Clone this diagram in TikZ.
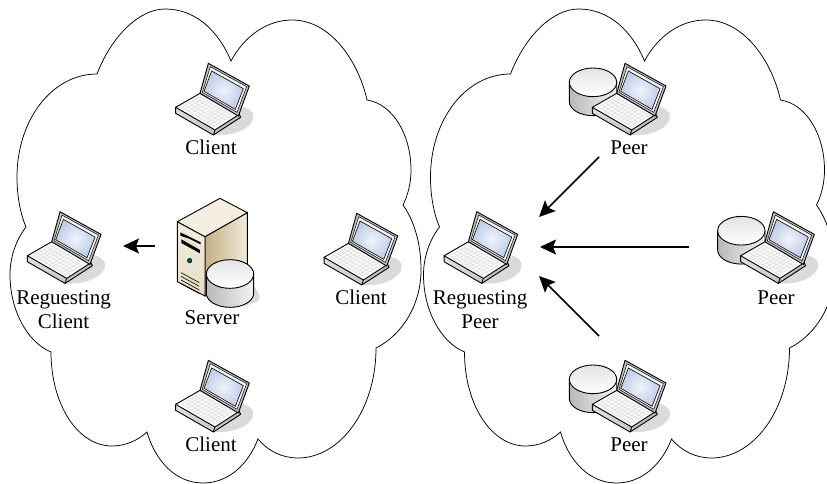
\documentclass[tikz,border=0pt]{standalone}
\usepackage{fontspec}
\setmainfont{Liberation Serif}
\usetikzlibrary{arrows.meta,calc}
\definecolor{screenC}{HTML}{F0F3FA}
\definecolor{screenO}{HTML}{BFCDE8}
\definecolor{shadowC}{HTML}{DADADA}
\definecolor{srvA}{HTML}{F3EEE0}
\definecolor{srvB}{HTML}{C4B083}
\definecolor{srvC}{HTML}{E6DCC2}
\definecolor{srvD}{HTML}{F1EBDC}
\tikzset{
  labeltext/.style={font=\fontsize{21}{24.5}\selectfont,anchor=base,align=center,inner sep=0pt,text=black},
  cloudline/.style={draw=black,line width=0.75pt},
  flowarrow/.style={draw=black,line width=1.5pt,-{Stealth[length=16pt,width=15pt,inset=3pt]}},
  edge/.style={draw=black,line width=0.9pt,line join=round},
  laptop/.pic={
    \begin{scope}[scale=1/3]
      \fill[shadowC] (715,318) .. controls (748,322) and (762,338) .. (760,352) .. controls (757,385) and (700,410) .. (640,405) -- cycle;
      \shade[left color=gray!25,right color=gray!55,draw=black,line width=0.9pt,line join=round] (527,322) -- (527,340) -- (640,405) -- (722,352) -- (716,340) -- cycle;
      \path[edge,fill=gray!5] (600,280) -- (527,322) -- (645,390) -- (716,344) -- cycle;
      \draw[edge] (645,390) -- (640,405);
      \coordinate (kA) at (598,292);
      \coordinate (kB) at (545,322);
      \coordinate (kC) at (642,378);
      \coordinate (kD) at (697,346);
      \foreach \t in {0,0.2,0.4,0.6,0.8,1}
        \draw[gray!35,line width=0.3pt] ($(kA)!\t!(kB)$) -- ($(kD)!\t!(kC)$);
      \foreach \t in {0,0.1,0.2,0.3,0.4,0.5,0.6,0.7,0.8,0.9,1}
        \draw[gray!35,line width=0.3pt] ($(kA)!\t!(kD)$) -- ($(kB)!\t!(kC)$);
      \path[edge,fill=gray!50] (625,190) -- (748,258) -- (715,348) -- (600,280) -- cycle;
      \draw[black,line width=0.5pt,fill=gray!8] (631,200) -- (740,260) -- (711,337) -- (607,277) -- cycle;
      \shade[inner color=screenC,outer color=screenO,draw=black,line width=0.6pt]
        (635,213) -- (730,266) -- (706,328) -- (612,274) -- cycle;
    \end{scope}
  },
  drum/.pic={
    \begin{scope}[scale=1/3]
      \shade[left color=gray!55,right color=gray!10,draw=black,line width=0.9pt]
        (-71,0) -- (-71,58) arc[start angle=180,end angle=360,x radius=71,y radius=-42] -- (71,0) -- cycle;
      \shade[top color=gray!22,bottom color=white,draw=black,line width=0.9pt]
        (0,0) ellipse[x radius=71,y radius=43];
    \end{scope}
  },
  peerset/.pic={
    \pic at (176.33,82.33) {drum};
    \pic at (0,0) {laptop};
  },
  cloudshape/.pic={
    \path[cloudline] (97,74)
      .. controls (112,35) and (140,9) .. (165,9)
      .. controls (195,9) and (218,30) .. (231,61)
      .. controls (245,35) and (268,20) .. (292,20)
      .. controls (330,20) and (358,60) .. (367,100)
      .. controls (393,104) and (411,135) .. (411,170)
      .. controls (411,183) and (408,195) .. (403,205)
      .. controls (415,222) and (421,245) .. (421,270)
      .. controls (421,305) and (402,335) .. (376,348)
      .. controls (376,410) and (340,458) .. (298,458)
      .. controls (282,458) and (268,451) .. (258,439)
      .. controls (248,465) and (228,483) .. (203,483)
      .. controls (175,483) and (155,460) .. (147,432)
      .. controls (137,441) and (125,446) .. (112,446)
      .. controls (78,446) and (51,405) .. (51,352)
      .. controls (27,342) and (10,310) .. (10,275)
      .. controls (10,257) and (16,240) .. (26,227)
      .. controls (20,213) and (17,195) .. (17,177)
      .. controls (17,120) and (52,74) .. (97,74) -- cycle;
  }
}
\begin{document}
\begin{tikzpicture}[x=1pt,y=-1pt]
  \useasboundingbox (0,0) rectangle (827,484);
  \clip (0,0) rectangle (827,484);
  \pic at (0,0) {cloudshape};
  \pic at (413.5,0) {cloudshape};

  % client devices
  \pic at (0,0) {laptop};
  \pic at (-148.3,148.4) {laptop};
  \pic at (148.4,150) {laptop};
  \pic at (0,297) {laptop};

  % server
  \begin{scope}[shift={(0,170)},scale=1/3]
    \fill[shadowC] (740,330) .. controls (770,350) and (785,380) .. (775,392) .. controls (750,410) and (700,412) .. (660,405) -- cycle;
    \shade[left color=srvB,right color=srvD,draw=black,line width=0.9pt] (615,200) -- (742,128) -- (742,310) -- (615,378) -- cycle;
    \shade[top color=srvA,bottom color=srvC,draw=black,line width=0.9pt] (532,155) -- (615,200) -- (615,378) -- (532,335) -- cycle;
    \fill[srvA,draw=black,line width=0.9pt,line join=round] (532,155) -- (660,85) -- (742,128) -- (615,200) -- cycle;
    \fill[black] (541,187) -- (602,217) -- (602,223) -- (570,207) -- (541,197) -- cycle;
    \fill[black] (544,208) -- (600,240) -- (600,250) -- (544,219) -- cycle;
    \fill[srvC] (552,205) -- (590,226) -- (590,232) -- (552,211) -- cycle;
    \fill[teal!70!black,draw=black,line width=0.4pt] (569,272) circle[radius=7];
    \foreach \d in {0,11,22,33}
      \draw[black,line width=0.6pt] (543,{308+\d}) -- (598,{338+\d});
  \end{scope}
  \pic at (230,274) {drum};

  % peer devices
  \pic at (416.7,0) {peerset};
  \pic at (268.4,148.4) {laptop};
  \pic at (565,148.4) {peerset};
  \pic at (416.7,297) {peerset};

  % labels
  \node[labeltext] (clientTop) at (211,154.5) {Client};
  \node[labeltext] (reqClient) at (63.5,328.5) {Reguesting\\Client};
  \node[labeltext] (server) at (212,324) {Server};
  \node[labeltext] (clientRight) at (361,304) {Client};
  \node[labeltext] (clientBottom) at (211,451) {Client};
  \node[labeltext] (peerTop) at (629,154.5) {Peer};
  \node[labeltext] (reqPeer) at (480,328.5) {Reguesting\\Peer};
  \node[labeltext] (peerRight) at (776,304) {Peer};
  \node[labeltext] (peerBottom) at (629,451) {Peer};

  % arrows
  \coordinate (a1s) at (155,246); \coordinate (a1e) at (123,246);
  \coordinate (a2s) at (599,157); \coordinate (a2e) at (539,217);
  \coordinate (a3s) at (689,247); \coordinate (a3e) at (540,247);
  \coordinate (a4s) at (599,336); \coordinate (a4e) at (539,276);
  \draw[flowarrow] (a1s) -- (a1e);
  \draw[flowarrow] (a2s) -- (a2e);
  \draw[flowarrow] (a3s) -- (a3e);
  \draw[flowarrow] (a4s) -- (a4e);
\end{tikzpicture}
\end{document}
